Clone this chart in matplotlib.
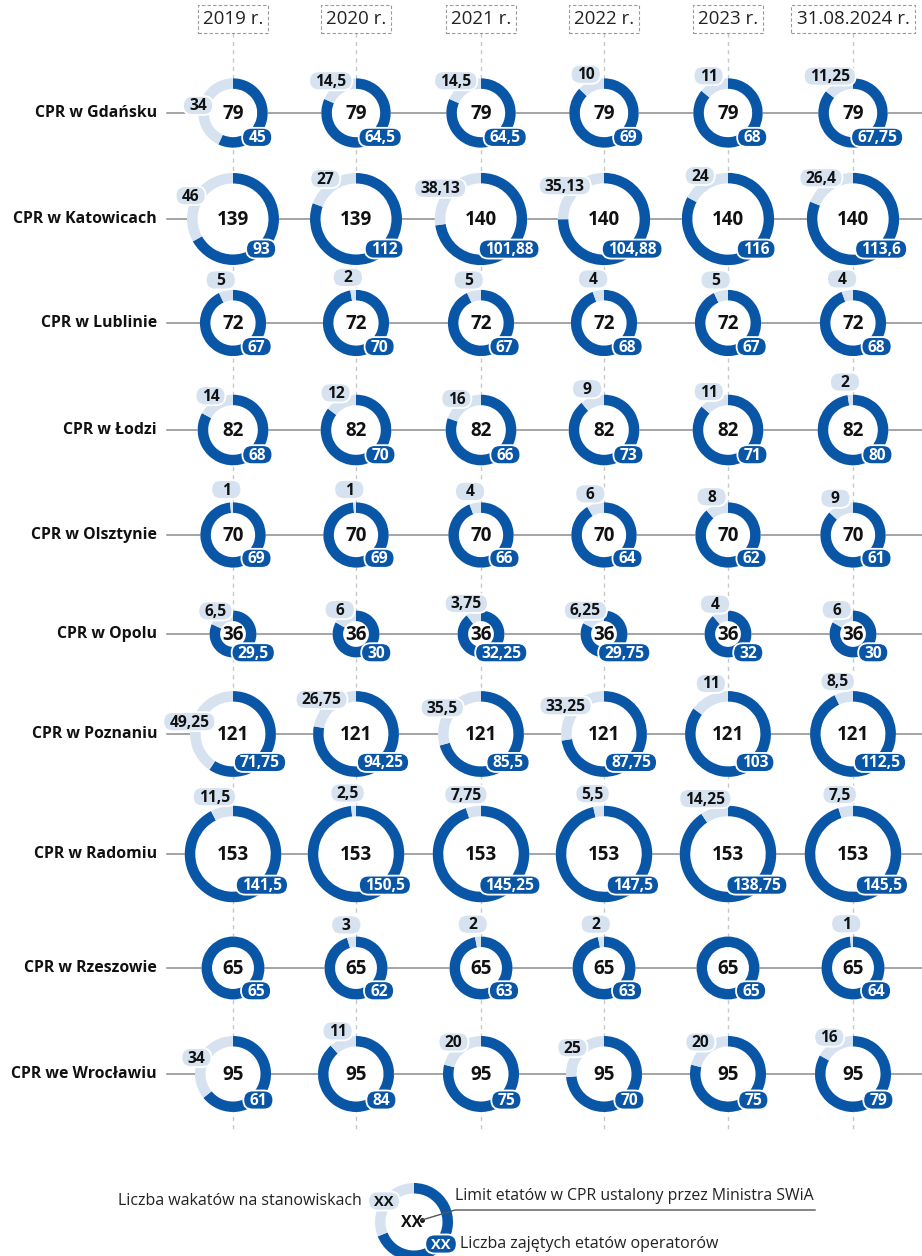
import numpy as np
import matplotlib
matplotlib.use('Agg')
import matplotlib.pyplot as plt
from matplotlib.patches import Wedge, Circle, FancyBboxPatch


FONT = ['Open Sans', 'DejaVu Sans']
DARK = '#0a56a6'
LIGHT = '#d6e2f0'

YEARS = ['2019 r.', '2020 r.', '2021 r.', '2022 r.', '2023 r.', '31.08.2024 r.']

CENTRES = ['CPR w Gdańsku', 'CPR w Katowicach', 'CPR w Lublinie', 'CPR w Łodzi',
           'CPR w Olsztynie', 'CPR w Opolu', 'CPR w Poznaniu', 'CPR w Radomiu',
           'CPR w Rzeszowie', 'CPR we Wrocławiu']

# limit etatów (Minister SWiA)
LIMITS = [
    [79, 79, 79, 79, 79, 79],
    [139, 139, 140, 140, 140, 140],
    [72, 72, 72, 72, 72, 72],
    [82, 82, 82, 82, 82, 82],
    [70, 70, 70, 70, 70, 70],
    [36, 36, 36, 36, 36, 36],
    [121, 121, 121, 121, 121, 121],
    [153, 153, 153, 153, 153, 153],
    [65, 65, 65, 65, 65, 65],
    [95, 95, 95, 95, 95, 95],
]

# wakaty
VACANCIES = [
    [34, 14.5, 14.5, 10, 11, 11.25],
    [46, 27, 38.13, 35.13, 24, 26.4],
    [5, 2, 5, 4, 5, 4],
    [14, 12, 16, 9, 11, 2],
    [1, 1, 4, 6, 8, 9],
    [6.5, 6, 3.75, 6.25, 4, 6],
    [49.25, 26.75, 35.5, 33.25, 11, 8.5],
    [11.5, 2.5, 7.75, 5.5, 14.25, 7.5],
    [0, 3, 2, 2, 0, 1],
    [34, 11, 20, 25, 20, 16],
]

# zajęte etaty operatorów
OCCUPIED = [
    [45, 64.5, 64.5, 69, 68, 67.75],
    [93, 112, 101.88, 104.88, 116, 113.6],
    [67, 70, 67, 68, 67, 68],
    [68, 70, 66, 73, 71, 80],
    [69, 69, 66, 64, 62, 61],
    [29.5, 30, 32.25, 29.75, 32, 30],
    [71.75, 94.25, 85.5, 87.75, 103, 112.5],
    [141.5, 150.5, 145.25, 147.5, 138.75, 145.5],
    [65, 62, 63, 63, 65, 64],
    [61, 84, 75, 70, 75, 79],
]

COL_X = [233, 356, 481, 604, 728, 853]
ROW_Y = [113, 219, 323, 430, 535, 634, 734, 854, 968, 1074]
RING = 10.5
PILL_H = 19
PILL_FS = 11.2


def fmt(v):
    return ('%g' % v).replace('.', ',')


def radius(limit):
    return 3.9 * np.sqrt(limit)


fig = plt.figure(figsize=(9.22, 12.56), dpi=100)
ax = fig.add_axes([0, 0, 1, 1])
ax.set_xlim(0, 922)
ax.set_ylim(1256, 0)
ax.axis('off')
renderer = fig.canvas.get_renderer()


def pill_width(s, size=PILL_FS):
    t = ax.text(0, 0, s, fontsize=size, fontweight='bold', family=FONT)
    w = t.get_window_extent(renderer).width
    t.remove()
    return max(w + 12, 30)


def pill(x, y, s, fc, tc, size=PILL_FS):
    w = pill_width(s, size)
    ax.add_patch(FancyBboxPatch((x - w / 2, y - PILL_H / 2), w, PILL_H,
                                boxstyle='round,pad=0,rounding_size=%g' % (PILL_H / 2),
                                fc=fc, ec='white', lw=1.3, zorder=5))
    ax.text(x, y + 1, s, ha='center', va='center', fontsize=size, fontweight='bold',
            color=tc, family=FONT, zorder=6)


def donut(cx, cy, r, share, zorder=3):
    # share of dark (occupied) part, clockwise from top
    ax.add_patch(Circle((cx, cy), r, fc='white', ec='none', zorder=zorder - 1))
    split = -90 + 360 * share
    if share > 0:
        ax.add_patch(Wedge((cx, cy), r, -90, split, width=RING, fc=DARK, ec='none', zorder=zorder))
    if share < 1:
        ax.add_patch(Wedge((cx, cy), r, split, 270, width=RING, fc=LIGHT, ec='none', zorder=zorder))


# column headers and dashed guides
for x, year in zip(COL_X, YEARS):
    ax.text(x, 19, year, ha='center', va='center', fontsize=13.5, color='#222222', family=FONT,
            bbox=dict(boxstyle='square,pad=0.28', fc='white', ec='#9a9a9a', ls=(0, (3, 2)), lw=0.8),
            zorder=4)
    ax.plot([x, x], [33, 1130], color='#c8c8c8', lw=1, ls=(0, (3, 3)), zorder=0)

# rows
for i, (name, y) in enumerate(zip(CENTRES, ROW_Y)):
    ax.text(157, y, name, ha='right', va='center', fontsize=11.4, fontweight='bold',
            color='#111111', family=FONT)
    ax.plot([167, 922], [y, y], color='#8c8c8c', lw=1.1, zorder=1)
    for j, x in enumerate(COL_X):
        lim = LIMITS[i][j]
        vac = VACANCIES[i][j]
        occ = OCCUPIED[i][j]
        r = radius(lim)
        donut(x, y, r, occ / lim)
        ax.text(x, y + 1, fmt(lim), ha='center', va='center', fontsize=13.5, fontweight='bold',
                color='#111111', family=FONT, zorder=6)

        # occupied label, lower right
        pill(x + 0.35 * r + 12, y + 0.5 * r + 7, fmt(occ), DARK, 'white')

        # vacancy label at middle of light arc
        if vac > 0:
            phi = np.radians(360 - 180 * vac / lim)
            hw = pill_width(fmt(vac)) / 2
            up = np.cos(phi)
            px = x + r * np.sin(phi) - 0.35 * hw * up
            py = y - (r * up + 13 * max(up, 0) ** 8)
            pill(px, py, fmt(vac), LIGHT, '#111111')

# legend
lx, ly = 414, 1222
lr = 39
donut(lx, ly, lr, 0.69)
ax.text(lx - 2, ly + 1, 'XX', ha='center', va='center', fontsize=11.5, fontweight='bold',
        color='#111111', family=FONT, zorder=6)
ax.plot([lx + 8], [ly - 2], marker='o', ms=2.5, color='#111111', zorder=7)
ax.plot([lx + 8, 455, 815], [ly - 2, 1210, 1210], color='#555555', lw=1, zorder=7)
pill(384, 1201, 'XX', LIGHT, '#111111', size=10.5)
pill(441, 1244, 'XX', DARK, 'white', size=10.5)
ax.text(362, 1201, 'Liczba wakatów na stanowiskach', ha='right', va='center', fontsize=11.5,
        color='#222222', family=FONT)
ax.text(455, 1196, 'Limit etatów w CPR ustalony przez Ministra SWiA', ha='left', va='center',
        fontsize=11.4, color='#222222', family=FONT)
ax.text(460, 1244, 'Liczba zajętych etatów operatorów', ha='left', va='center', fontsize=11.5,
        color='#222222', family=FONT)

fig.savefig('out.png', dpi=100)
